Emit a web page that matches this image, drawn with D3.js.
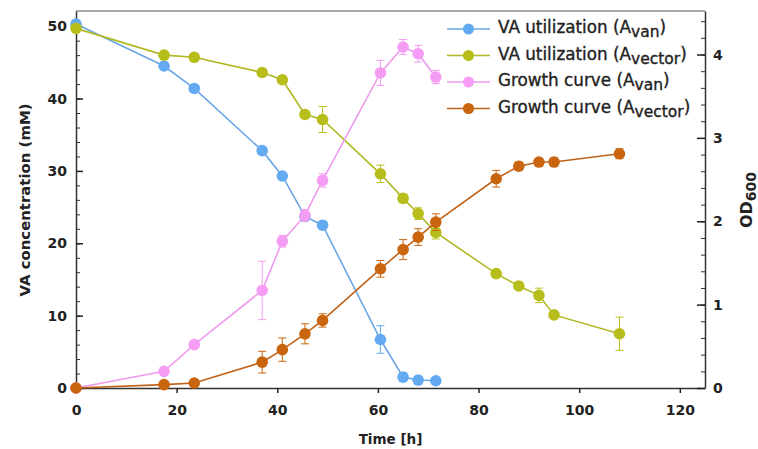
<!DOCTYPE html>
<html>
<head>
<meta charset="utf-8">
<script src="https://cdn.jsdelivr.net/npm/d3@7"></script>
<style>
  body { margin: 0; background: #fff; }
  text { font-family: "DejaVu Sans", sans-serif; }
</style>
</head>
<body>
<div id="chart"></div>
<script>
(function() {
  // Data
  const timeLong = [0, 17.5, 23.5, 37, 41, 45.5, 49, 60.5, 65, 68, 71.5, 83.5, 88, 92, 95, 108];
  const timeShort = [0, 17.5, 23.5, 37, 41, 45.5, 49, 60.5, 65, 68, 71.5];

  const vaVan = [50.3, 44.5, 41.4, 32.8, 29.3, 23.7, 22.5, 6.7, 1.5, 1.1, 1.0];
  const vaVanErr = [0.3, 0.3, 0.3, 0.4, 0.4, 0.3, 0.3, 1.9, 0.6, 0.3, 0.3];

  const vaVector = [49.7, 46.0, 45.7, 43.6, 42.6, 37.8, 37.1, 29.6, 26.2, 24.1, 21.5, 15.8, 14.1, 12.8, 10.1, 7.5];
  const vaVectorErr = [0.3, 0.5, 0.4, 0.4, 0.5, 0.5, 1.8, 1.2, 0.6, 0.8, 0.9, 0.4, 0.5, 1.0, 0.4, 2.3];

  const growthVan = [0, 0.20, 0.52, 1.17, 1.76, 2.07, 2.49, 3.78, 4.09, 4.01, 3.73];
  const growthVanErr = [0.02, 0.03, 0.04, 0.35, 0.07, 0.07, 0.08, 0.15, 0.09, 0.1, 0.08];

  const growthVector = [0, 0.04, 0.06, 0.31, 0.46, 0.65, 0.81, 1.43, 1.66, 1.81, 1.99, 2.51, 2.66, 2.71, 2.71, 2.81];
  const growthVectorErr = [0.01, 0.02, 0.02, 0.13, 0.14, 0.12, 0.08, 0.1, 0.12, 0.1, 0.1, 0.1, 0.05, 0.04, 0.05, 0.06];

  const xTicks = [0, 20, 40, 60, 80, 100, 120];
  const yLeftTicks = [0, 10, 20, 30, 40, 50];
  const yRightTicks = [0, 1, 2, 3, 4];

  const width = 758;
  const height = 449;
  const margin = { top: 11, right: 53, bottom: 61, left: 76 };
  const innerW = width - margin.left - margin.right;
  const innerH = height - margin.top - margin.bottom;

  const series = [
    { name: "VA utilization (A", sub: "van", x: timeShort, y: vaVan, err: vaVanErr, axis: "left", color: "#63aaf0", line: "#6aa6e6" },
    { name: "VA utilization (A", sub: "vector", x: timeLong, y: vaVector, err: vaVectorErr, axis: "left", color: "#b7be1b", line: "#b2b823" },
    { name: "Growth curve (A", sub: "van", x: timeShort, y: growthVan, err: growthVanErr, axis: "right", color: "#f59cf4", line: "#ee9aee" },
    { name: "Growth curve (A", sub: "vector", x: timeLong, y: growthVector, err: growthVectorErr, axis: "right", color: "#c9650f", line: "#c0631a" }
  ];

  const svg = d3.select("#chart")
    .append("svg")
    .attr("width", width)
    .attr("height", height);

  const g = svg.append("g")
    .attr("transform", `translate(${margin.left},${margin.top})`);

  const x = d3.scaleLinear().domain([0, 125]).range([0, innerW]);
  const yL = d3.scaleLinear().domain([0, 52.1]).range([innerH, 0]);
  const yR = d3.scaleLinear().domain([0, 4.522]).range([innerH, 0]);

  // Frame top line
  g.append("line")
    .attr("x1", 0).attr("x2", innerW)
    .attr("y1", 0).attr("y2", 0)
    .attr("stroke", "#555").attr("stroke-width", 1);

  // Minor ticks
  g.append("g")
    .call(d3.axisRight(yL).tickValues(d3.range(0, 52, 2)).tickSize(4).tickFormat(""))
    .call(a => a.select(".domain").remove())
    .selectAll("line").attr("stroke", "#333");

  g.append("g")
    .attr("transform", `translate(${innerW},0)`)
    .call(d3.axisLeft(yR).tickValues(d3.range(0, 45, 2).map(d => d / 10)).tickSize(4).tickFormat(""))
    .call(a => a.select(".domain").remove())
    .selectAll("line").attr("stroke", "#333");

  // Axes
  const axisStyle = sel => {
    sel.selectAll("text")
      .attr("font-size", "14px")
      .attr("font-weight", "bold")
      .attr("font-family", "DejaVu Sans")
      .attr("fill", "#222");
    sel.select(".domain").attr("stroke", "#333").attr("stroke-width", 1.5);
    sel.selectAll(".tick line").attr("stroke", "#222").attr("stroke-width", 1.5);
  };

  g.append("g")
    .attr("transform", `translate(0,${innerH})`)
    .call(d3.axisBottom(x).tickValues(xTicks).tickSize(5).tickSizeOuter(0).tickPadding(12))
    .call(axisStyle);

  g.append("g")
    .call(d3.axisLeft(yL).tickValues(yLeftTicks).tickSize(-7).tickSizeOuter(0).tickPadding(9))
    .call(axisStyle);

  g.append("g")
    .attr("transform", `translate(${innerW},0)`)
    .call(d3.axisRight(yR).tickValues(yRightTicks).tickFormat(d3.format("d")).tickSize(-8).tickSizeOuter(0).tickPadding(8))
    .call(axisStyle);

  // Axis labels
  svg.append("text")
    .attr("x", margin.left + x(62.5))
    .attr("y", 444)
    .attr("text-anchor", "middle")
    .attr("font-size", "13.5px")
    .attr("font-weight", "bold")
    .attr("fill", "#222")
    .text("Time [h]");

  svg.append("text")
    .attr("transform", `translate(30,200) rotate(-90)`)
    .attr("text-anchor", "middle")
    .attr("font-size", "14.9px")
    .attr("font-weight", "bold")
    .attr("fill", "#222")
    .text("VA concentration (mM)");

  const od = svg.append("text")
    .attr("transform", `translate(752,200) rotate(-90)`)
    .attr("text-anchor", "middle")
    .attr("font-size", "16px")
    .attr("font-weight", "bold")
    .attr("fill", "#222");
  od.append("tspan").text("OD");
  od.append("tspan").attr("font-size", "14px").attr("dy", 4).text("600");

  // Series
  series.forEach(s => {
    const ys = s.axis === "left" ? yL : yR;
    const pts = s.x.map((t, i) => ({ t, v: s.y[i], e: s.err[i] }));
    const sg = g.append("g");

    sg.append("path")
      .datum(pts)
      .attr("fill", "none")
      .attr("stroke", s.line)
      .attr("stroke-width", 1.6)
      .attr("d", d3.line().x(d => x(d.t)).y(d => ys(d.v)));

    const eb = sg.selectAll(".err")
      .data(pts)
      .join("g")
      .attr("stroke", s.color)
      .attr("stroke-width", 1);
    eb.append("line")
      .attr("x1", d => x(d.t)).attr("x2", d => x(d.t))
      .attr("y1", d => ys(d.v - d.e)).attr("y2", d => ys(d.v + d.e));
    eb.append("line")
      .attr("x1", d => x(d.t) - 4).attr("x2", d => x(d.t) + 4)
      .attr("y1", d => ys(d.v - d.e)).attr("y2", d => ys(d.v - d.e));
    eb.append("line")
      .attr("x1", d => x(d.t) - 4).attr("x2", d => x(d.t) + 4)
      .attr("y1", d => ys(d.v + d.e)).attr("y2", d => ys(d.v + d.e));

    sg.selectAll("circle")
      .data(pts)
      .join("circle")
      .attr("cx", d => x(d.t))
      .attr("cy", d => ys(d.v))
      .attr("r", 5.8)
      .attr("fill", s.color);
  });

  // Legend
  const legend = svg.append("g").attr("transform", "translate(447,29)");
  series.forEach((s, i) => {
    const row = legend.append("g").attr("transform", `translate(0,${i * 26.5})`);
    row.append("line")
      .attr("x1", 0).attr("x2", 43)
      .attr("stroke", s.line).attr("stroke-width", 1.6);
    row.append("circle")
      .attr("cx", 21.5).attr("r", 5.5).attr("fill", s.color);
    const t = row.append("text")
      .attr("x", 51)
      .attr("y", 0)
      .attr("dy", "0.25em")
      .attr("font-size", "16.8px")
      .attr("fill", "#222")
      .attr("stroke", "#222")
      .attr("stroke-width", 0.35);
    t.append("tspan").text(s.name);
    t.append("tspan").attr("dy", 4).attr("font-size", "15.5px").text(s.sub);
    t.append("tspan").attr("dy", -4).text(")");
  });
})();
</script>
</body>
</html>
